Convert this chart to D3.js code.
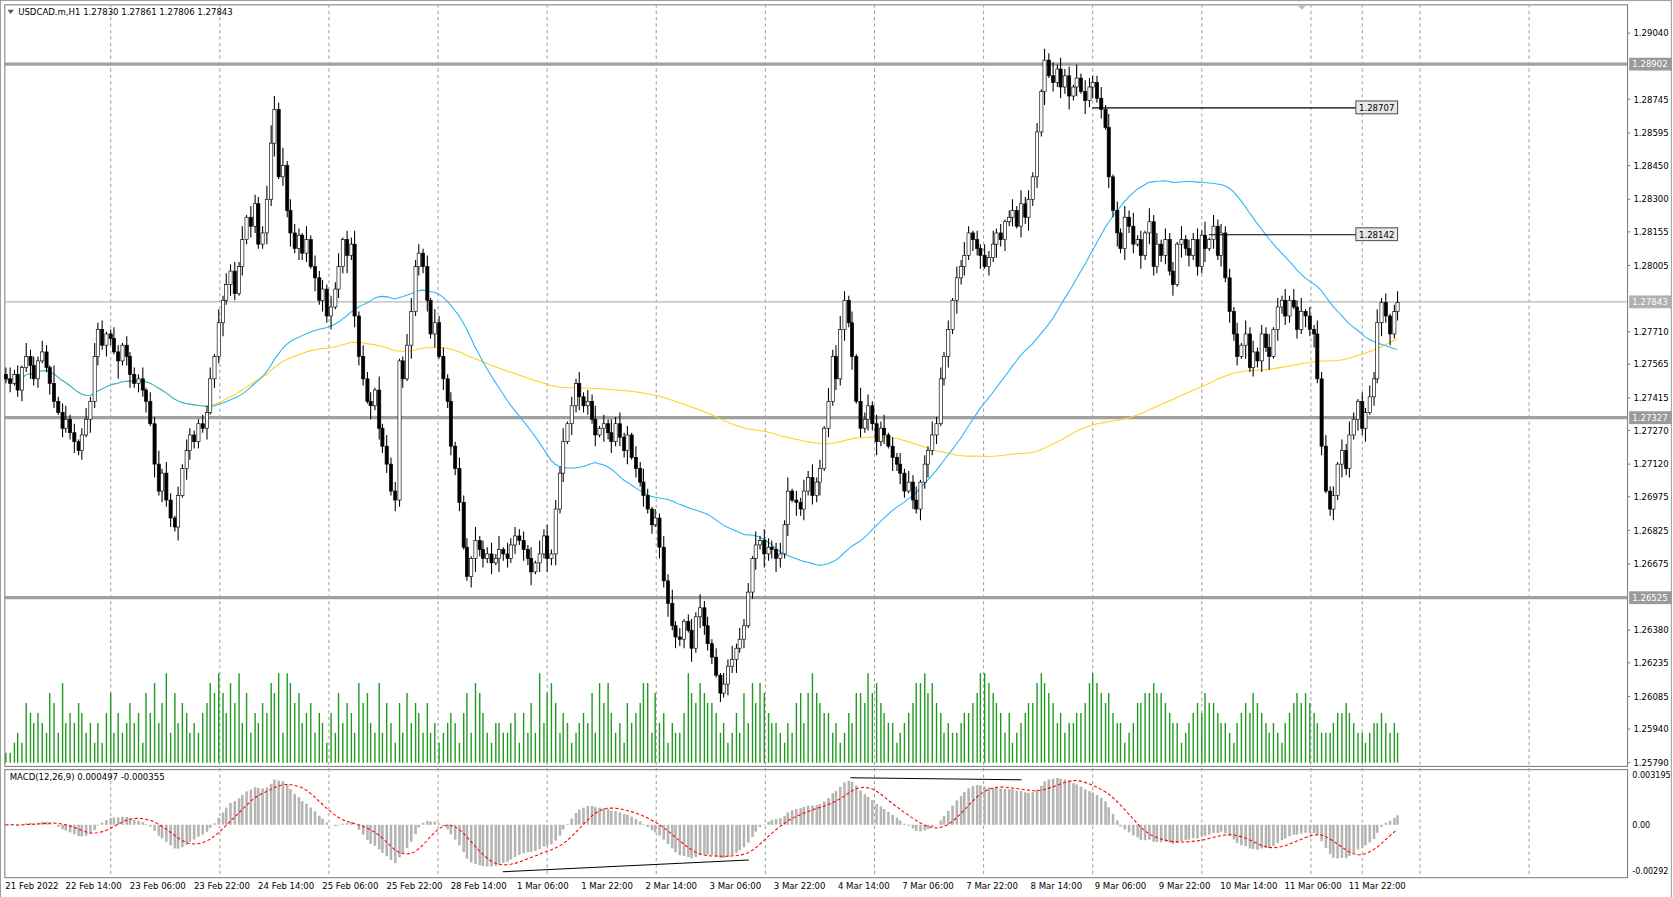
<!DOCTYPE html>
<html><head><meta charset="utf-8">
<script src="https://cdn.jsdelivr.net/npm/d3@7"></script>
<style>body{margin:0;background:#fff}text{font-family:"DejaVu Sans",sans-serif;font-size:8px;fill:#000}</style>
</head><body>
<script>
// closes in pips above 1.2600, one row per 16 hourly bars
var closePips = [
 150,148,152,145,155,160,156,150,158,162,155,148,140,135,128,132,
 126,122,118,125,132,140,160,172,165,170,168,162,158,165,160,152,
 148,150,145,140,130,112,100,108,96,88,84,98,110,118,125,122,
 130,128,135,150,160,175,185,192,198,188,200,212,222,218,228,210,
 215,230,255,270,240,245,225,215,208,214,206,212,200,195,185,190,
 178,182,190,200,212,205,210,178,160,150,140,138,145,128,120,112,
 100,96,158,150,165,180,200,206,200,185,170,175,160,150,140,120,
 110,95,75,62,70,78,74,70,72,68,70,74,72,70,76,80,
 78,74,70,64,68,72,80,70,72,92,108,122,130,138,148,142,
 138,140,132,125,128,130,126,122,130,124,118,125,115,110,104,98,
 92,85,88,75,60,50,40,35,34,42,38,30,44,48,40,32,
 26,18,10,14,22,25,30,34,40,55,70,76,78,72,75,74,
 70,72,85,100,96,95,92,100,106,98,104,110,128,140,160,150,
 172,185,175,160,140,128,132,138,130,122,128,125,120,115,112,108,
 100,104,96,92,104,112,118,125,130,150,160,172,185,195,200,205,
 215,212,208,205,200,204,210,215,212,220,222,225,218,228,222,230,
 240,260,278,292,285,282,288,280,285,276,280,284,278,274,280,282,
 275,270,262,240,225,215,208,222,218,210,212,205,215,220,200,210,
 205,212,198,192,210,212,208,205,212,200,214,208,212,218,205,215,
 195,180,170,160,165,170,155,162,158,170,164,160,172,182,185,178,
 185,182,172,180,178,172,170,150,120,100,92,98,112,118,110,125,
 132,140,128,135,142,150,175,184,178,170,180,184
];
var firstOpen = 152;
// wick lengths in pips above / below the body
var upWick = ("3524163425318246"+"2413526341253142"+"3251436253142532"+"2435162534261543"+
 "3686382543162534"+"2536143625341625"+"3412563425163424"+"2534162435261534"+
 "3425163524361425"+"2536142635241536"+"3142536241352634"+"2415362534162543"+
 "3526142536241635"+"6425163524361425"+"2536142635241536"+"3142536241352634"+
 "2415362534162543"+"3526142536241635"+"2534162435261534"+"3425163524361425"+
 "2536142635241536"+"314253624135").split("").map(Number);
var dnWick = ("2413526341253142"+"3524163425318246"+"2435162534261543"+"3251436253142532"+
 "2536143625341625"+"3614382543162534"+"2534162435261534"+"3412563425163424"+
 "2536142635241536"+"3425163524361425"+"2415362534162543"+"3142536241352634"+
 "6425163524361425"+"3526142536241635"+"3142536241352634"+"2536142635241536"+
 "3526142536241635"+"2415362534162543"+"3425163524361425"+"2534162435261534"+
 "3142536241352634"+"253614263524").split("").map(Number);
// tick volume, 0-9
var volume = ("1123265454376384"+"5465342425735346"+"4527584693746534"+"3568797586947354"+
 "6587939867456354"+"2537465386743836"+"4263746536342345"+"4257387532443345"+
 "2536394786354234"+"5473868534264568"+"8374524335976876"+"6534235374868754"+
 "4324367479765534"+"2354776978654423"+"4568897865343345"+"5679987653523456"+
 "6898764534455689"+"8767544234667787"+"7654423456576654"+"4324565765434324"+
 "5676765433345565"+"433234454343").split("").map(Number);
var xLabels = ["21 Feb 2022","22 Feb 14:00","23 Feb 06:00","23 Feb 22:00","24 Feb 14:00","25 Feb 06:00",
 "25 Feb 22:00","28 Feb 14:00","1 Mar 06:00","1 Mar 22:00","2 Mar 14:00","3 Mar 06:00","3 Mar 22:00",
 "4 Mar 14:00","7 Mar 06:00","7 Mar 22:00","8 Mar 14:00","9 Mar 06:00","9 Mar 22:00","10 Mar 14:00",
 "11 Mar 06:00","11 Mar 22:00"];
var priceTicks = [1.29040,1.28745,1.28595,1.28450,1.28300,1.28155,1.28005,1.27710,1.27565,1.27415,
 1.27270,1.27120,1.26975,1.26825,1.26675,1.26380,1.26235,1.26085,1.25940,1.25790];
var levels = [1.28902, 1.27327, 1.26525];
var lastPrice = 1.27843;
var trendLines = [{from: 271, level: 1.28707}, {from: 300, level: 1.28142}];

var W = 1673, H = 897, L = 4, R = 1521, T = 4, B = 716, mT = 719, mB = 820;
var root = d3.select("body").append("svg").attr("width", W).attr("height", H);
var svg = root.append("g").attr("transform", "scale(" + (1673 / 1564) + ")");

var n = closePips.length;
var bars = closePips.map(function (c, i) {
  var o = i === 0 ? firstOpen : closePips[i - 1];
  return {i: i, o: 1.26 + o / 1e4, c: 1.26 + c / 1e4,
    h: 1.26 + (Math.max(o, c) + upWick[i]) / 1e4, l: 1.26 + (Math.min(o, c) - dnWick[i]) / 1e4, v: volume[i]};
});

var x = d3.scaleLinear().domain([0, n - 1]).range([5, 5 + 3.75 * (n - 1)]);
var y = d3.scaleLinear().domain([1.2579, 1.2904]).range([713, 31]);
var yv = d3.scaleLinear().domain([0, 10]).range([713, 620]);

// frame
svg.append("rect").attr("x", 0.5).attr("y", 0.5).attr("width", 1562).attr("height", 839).attr("fill", "none").attr("stroke", "#a0a0a0");
svg.append("rect").attr("x", L + 0.5).attr("y", T + 0.5).attr("width", R - L).attr("height", B - T).attr("fill", "none").attr("stroke", "#808080");
svg.append("rect").attr("x", L + 0.5).attr("y", mT + 0.5).attr("width", R - L).attr("height", mB - mT).attr("fill", "none").attr("stroke", "#808080");

// vertical grid
var gridX = d3.range(103, R, 102).concat([1273]);
svg.append("g").selectAll("line").data(gridX).join("line")
  .attr("x1", function (d) { return d + 0.5; }).attr("x2", function (d) { return d + 0.5; })
  .attr("y1", T).attr("y2", mB).attr("stroke", "#a0a0a0").attr("stroke-dasharray", "3,3");

// volume
svg.append("g").selectAll("line").data(bars).join("line")
  .attr("x1", function (d) { return Math.round(x(d.i)) + 0.5; }).attr("x2", function (d) { return Math.round(x(d.i)) + 0.5; })
  .attr("y1", yv(0)).attr("y2", function (d) { return yv(d.v); })
  .attr("stroke", "#1f9a1f").attr("stroke-width", 1.3);

// horizontal levels
svg.append("line").attr("x1", L).attr("x2", R).attr("y1", y(lastPrice)).attr("y2", y(lastPrice)).attr("stroke", "#b8b8b8");
svg.append("g").selectAll("line").data(levels).join("line")
  .attr("x1", L).attr("x2", R).attr("y1", function (d) { return y(d); }).attr("y2", function (d) { return y(d); })
  .attr("stroke", "#a0a0a0").attr("stroke-width", 3);

// moving averages
function sma(p) {
  return bars.map(function (d, i) {
    var s = bars.slice(Math.max(0, i - p + 1), i + 1);
    return d3.mean(s, function (b) { return b.c; });
  });
}
var maLine = d3.line().x(function (d, i) { return x(i); }).y(function (d) { return y(d); });
svg.append("path").attr("d", maLine(sma(170))).attr("fill", "none").attr("stroke", "#ffd21f").attr("stroke-width", 1);
svg.append("path").attr("d", maLine(sma(50))).attr("fill", "none").attr("stroke", "#29b6f6").attr("stroke-width", 1);

// candles
var cg = svg.append("g");
cg.selectAll("line").data(bars).join("line")
  .attr("x1", function (d) { return Math.round(x(d.i)) + 0.5; }).attr("x2", function (d) { return Math.round(x(d.i)) + 0.5; })
  .attr("y1", function (d) { return y(d.h); }).attr("y2", function (d) { return y(d.l); }).attr("stroke", "#000");
cg.selectAll("rect").data(bars).join("rect")
  .attr("x", function (d) { return Math.round(x(d.i)) - 1; }).attr("width", 3)
  .attr("y", function (d) { return y(Math.max(d.o, d.c)); })
  .attr("height", function (d) { return Math.max(1, Math.abs(y(d.o) - y(d.c))); })
  .attr("fill", function (d) { return d.c >= d.o ? "#fff" : "#000"; }).attr("stroke", "#000").attr("stroke-width", 0.6);

// trend lines with labels
trendLines.forEach(function (t) {
  svg.append("line").attr("x1", x(t.from)).attr("x2", 1268).attr("y1", y(t.level)).attr("y2", y(t.level)).attr("stroke", "#000");
  svg.append("rect").attr("x", 1267.5).attr("y", y(t.level) - 6.5).attr("width", 39).attr("height", 12).attr("fill", "#e8e8e8").attr("stroke", "#555");
  svg.append("text").attr("x", 1287).attr("y", y(t.level) + 3).attr("text-anchor", "middle").text(t.level.toFixed(5));
});

// price axis
svg.append("g").selectAll("text").data(priceTicks).join("text")
  .attr("x", 1527).attr("y", function (d) { return y(d) + 3; }).text(function (d) { return d.toFixed(5); });
svg.append("g").selectAll("line").data(priceTicks).join("line")
  .attr("x1", R).attr("x2", R + 3).attr("y1", function (d) { return y(d); }).attr("y2", function (d) { return y(d); }).attr("stroke", "#808080");
levels.concat([lastPrice]).forEach(function (v) {
  svg.append("rect").attr("x", R + 2).attr("y", y(v) - 6).attr("width", 40).attr("height", 12).attr("fill", v === lastPrice ? "#b0b0b0" : "#9a9a9a");
  svg.append("text").attr("x", 1526).attr("y", y(v) + 3).style("fill", "#fff").text(v.toFixed(5));
});

// MACD
function ema(arr, p) {
  var k = 2 / (p + 1), out = [], prev = arr[0];
  arr.forEach(function (v) { prev = v * k + prev * (1 - k); out.push(prev); });
  return out;
}
var closes = bars.map(function (d) { return d.c; });
var e12 = ema(closes, 12), e26 = ema(closes, 26);
var macd = e12.map(function (v, i) { return v - e26[i]; });
var signal = macd.map(function (v, i) { return d3.mean(macd.slice(Math.max(0, i - 8), i + 1)); });
var ym = d3.scaleLinear().domain([-0.00292, 0.003195]).range([814, 724]);
svg.append("g").selectAll("line").data(macd).join("line")
  .attr("x1", function (d, i) { return Math.round(x(i)) + 0.5; }).attr("x2", function (d, i) { return Math.round(x(i)) + 0.5; })
  .attr("y1", ym(0)).attr("y2", function (d) { return ym(d); }).attr("stroke", "#b4b4b4").attr("stroke-width", 2.4);
svg.append("path").attr("d", d3.line().x(function (d, i) { return x(i); }).y(function (d) { return ym(d); })(signal))
  .attr("fill", "none").attr("stroke", "#ff0000").attr("stroke-dasharray", "3,2");
svg.append("line").attr("x1", 795).attr("x2", 955).attr("y1", 727).attr("y2", 729).attr("stroke", "#000");
svg.append("line").attr("x1", 470).attr("x2", 700).attr("y1", 815).attr("y2", 804).attr("stroke", "#000");
[[0.003195, "0.003195"], [0, "0.00"], [-0.00292, "-0.00292"]].forEach(function (t) {
  svg.append("text").attr("x", 1526).attr("y", ym(t[0]) + 3).style("font-size", "7.5px").text(t[1]);
});
svg.append("text").attr("x", 9).attr("y", 729).text("MACD(12,26,9) 0.000497 -0.000355");

// time axis
svg.append("g").selectAll("text").data(xLabels).join("text")
  .attr("x", function (d, k) { return k === 0 ? 5 : x(22 + 16 * (k - 1)); })
  .attr("y", 831).attr("text-anchor", function (d, k) { return k === 0 ? "start" : "middle"; })
  .text(function (d) { return d; });

// header
svg.append("path").attr("d", "M7,9 L13,9 L10,13 Z").attr("fill", "#555");
svg.append("text").attr("x", 17).attr("y", 14).text("USDCAD.m,H1  1.27830 1.27861 1.27806 1.27843");
svg.append("path").attr("d", "M1213,5 L1221,5 L1217,9 Z").attr("fill", "#bbb");
</script>
</body></html>
